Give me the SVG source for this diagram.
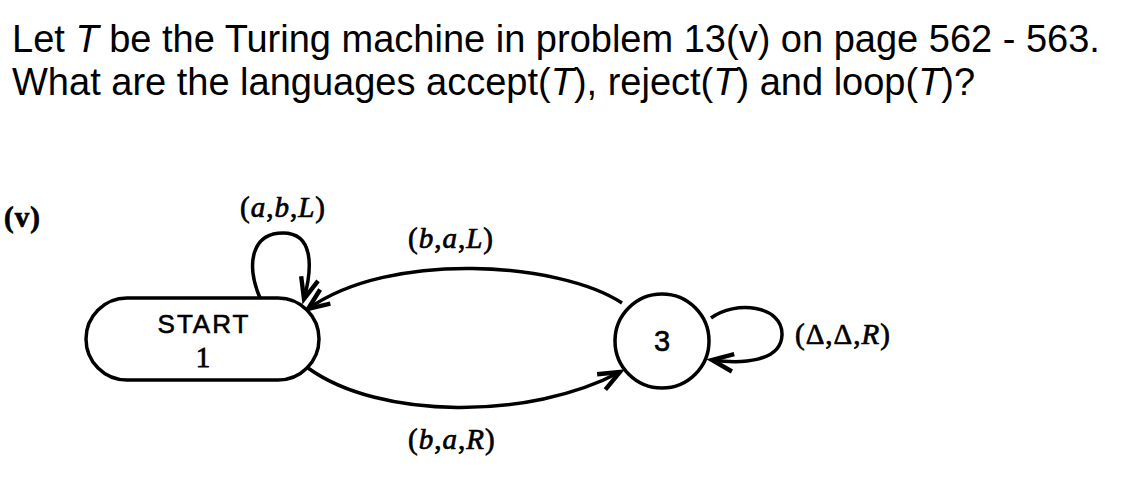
<svg xmlns="http://www.w3.org/2000/svg" width="1144" height="483" viewBox="0 0 1144 483">
<style>
.title{font-family:"Liberation Sans",Arial,sans-serif;font-size:38px;fill:#000}
.lbl{font-family:"Liberation Serif","Times New Roman",serif;font-size:29px;fill:#000;stroke:#000;stroke-width:0.7;letter-spacing:1px}
.it{font-style:italic}
.node{fill:#fff;stroke:#000;stroke-width:3.5}
.edge{fill:none;stroke:#000;stroke-width:3.5}
.sans{font-family:"Liberation Sans",Arial,sans-serif;fill:#000;stroke:#000;stroke-width:0.6}
</style>
<defs>
<marker id="arr" markerUnits="userSpaceOnUse" markerWidth="30" markerHeight="30" viewBox="-20 -10 24 20" refX="0" refY="0" orient="auto">
<path d="M -17 -7 L 0 0 L -17 7" fill="none" stroke="#000" stroke-width="3.5"/>
</marker>
</defs>
<rect width="1144" height="483" fill="#fff"/>
<g id="title">
<text class="title" x="12" y="52">Let <tspan font-style="italic">T</tspan> be the Turing machine in problem 13(v) on page 562 - 563.</text>
<text class="title" x="12" y="95">What are the languages accept(<tspan font-style="italic">T</tspan>), reject(<tspan font-style="italic">T</tspan>) and loop(<tspan font-style="italic">T</tspan>)?</text>
</g>
<text class="lbl" x="4" y="227" font-weight="bold" font-size="38" letter-spacing="4">(v)</text>
<g id="connectors">
<path class="edge" d="M 260 298 C 245 262 253 233 283 233 C 313 233 313 266 304 299" marker-end="url(#arr)"/>
<path class="edge" d="M 622 303 C 560 262 390 250 308 309" marker-end="url(#arr)"/>
<path class="edge" d="M 308 368 C 380 420 530 420 620 372" marker-end="url(#arr)"/>
<path class="edge" d="M 711 318 C 735 300 783 305 782 335 C 781 362 742 364 712 360" marker-end="url(#arr)"/>
<text class="lbl" x="240" y="217">(<tspan class="it">a</tspan>,<tspan class="it">b</tspan>,<tspan class="it">L</tspan>)</text>
<text class="lbl" x="408" y="248">(<tspan class="it">b</tspan>,<tspan class="it">a</tspan>,<tspan class="it">L</tspan>)</text>
<text class="lbl" x="408" y="449">(<tspan class="it">b</tspan>,<tspan class="it">a</tspan>,<tspan class="it">R</tspan>)</text>
<text class="lbl" x="795" y="344">(Δ,Δ,<tspan class="it">R</tspan>)</text>
</g>
<g id="node1">
<rect class="node" x="86" y="298" width="233" height="82" rx="41" ry="41"/>
<text class="sans" x="204" y="333" font-size="26" text-anchor="middle" letter-spacing="2">START</text>
<text x="203" y="367" font-family="Liberation Serif,serif" font-size="29" text-anchor="middle" stroke="#000" stroke-width="0.8">1</text>
</g>
<g id="node3">
<circle class="node" cx="662" cy="341" r="47"/>
<text class="sans" x="662" y="351" font-size="29" text-anchor="middle">3</text>
</g>
</svg>
